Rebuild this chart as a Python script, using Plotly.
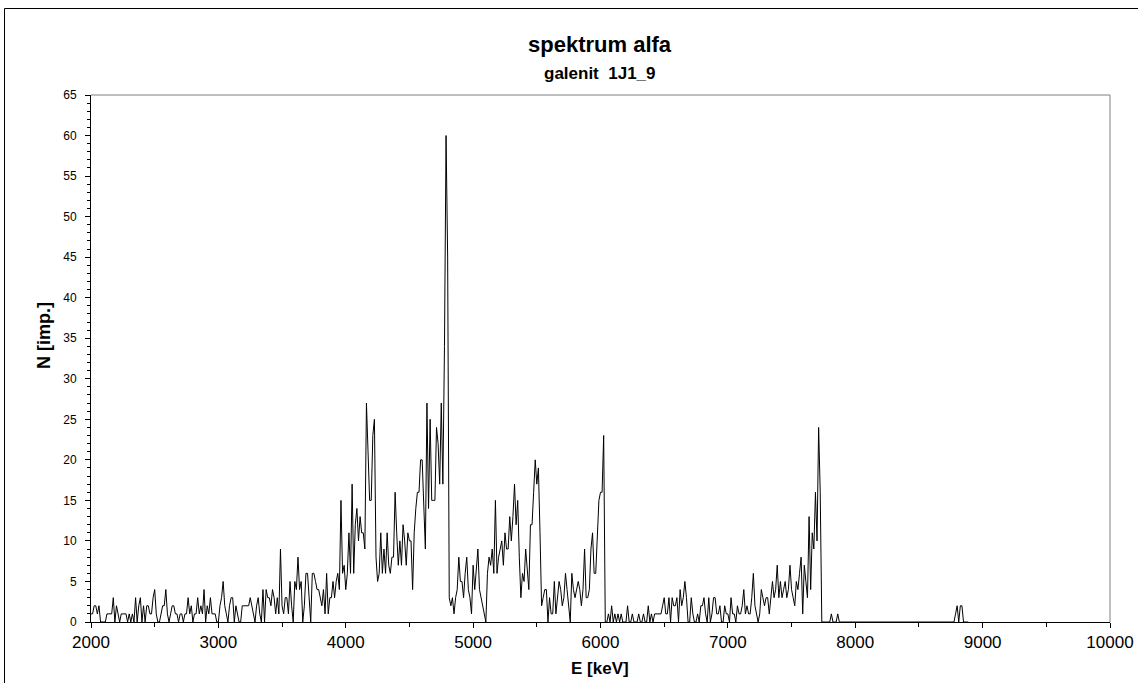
import plotly.graph_objects as go

# ---- data ----
E_START = 2000.0     # keV, first channel
E_STEP = 12.5        # keV per channel

# counts per channel, one row = 100 keV (8 channels)
counts_rows = [
    [1, 1, 2, 2, 1, 2, 0, 0],        # 2000
    [0, 0, 1, 1, 1, 1, 3, 0],        # 2100
    [2, 1, 0, 1, 1, 1, 1, 0],        # 2200
    [1, 0, 1, 0, 3, 0, 2, 3],        # 2300
    [0, 2, 0, 2, 2, 1, 1, 3],        # 2400
    [4, 1, 0, 0, 1, 2, 2, 4],        # 2500
    [1, 0, 1, 2, 2, 1, 1, 0],        # 2600
    [1, 1, 0, 1, 1, 3, 1, 2],        # 2700
    [0, 1, 1, 3, 1, 2, 1, 4],        # 2800
    [0, 2, 1, 3, 1, 1, 1, 0],        # 2900
    [0, 2, 3, 5, 2, 1, 0, 2],        # 3000
    [3, 3, 0, 2, 1, 0, 0, 2],        # 3100
    [2, 2, 2, 2, 3, 2, 1, 0],        # 3200
    [2, 3, 1, 0, 4, 0, 4, 3],        # 3300
    [3, 2, 4, 3, 1, 3, 1, 9],        # 3400
    [2, 1, 3, 3, 1, 5, 2, 0],        # 3500
    [5, 4, 8, 4, 5, 0, 2, 6],        # 3600
    [6, 3, 0, 6, 6, 5, 4, 4],        # 3700
    [3, 2, 4, 1, 6, 1, 3, 3],        # 3800
    [5, 3, 5, 6, 4, 15, 6, 7],       # 3900
    [4, 6, 11, 6, 17, 6, 12, 14],    # 4000
    [10, 13, 11, 11, 9, 27, 21, 15], # 4100
    [15, 23, 25, 8, 5, 6, 11, 6],    # 4200
    [9, 6, 11, 7, 6, 8, 8, 16],      # 4300
    [11, 7, 10, 7, 12, 10, 7, 11],   # 4400
    [10, 10, 4, 11, 14, 16, 16, 20], # 4500
    [20, 15, 9, 27, 14, 25, 15, 15], # 4600
    [15, 24, 22, 17, 27, 17, 34, 60],# 4700
    [45, 3, 2, 3, 1, 3, 4, 8],       # 4800
    [5, 5, 3, 6, 8, 4, 3, 1],        # 4900
    [7, 4, 7, 9, 4, 3, 2, 1],        # 5000
    [0, 6, 8, 7, 9, 6, 15, 6],       # 5100
    [8, 9, 10, 7, 11, 9, 9, 13],     # 5200
    [10, 13, 17, 12, 15, 8, 3, 6],   # 5300
    [5, 9, 6, 4, 12, 12, 16, 20],    # 5400
    [17, 19, 11, 2, 3, 4, 4, 0],     # 5500
    [3, 1, 1, 5, 1, 3, 5, 4],        # 5600
    [2, 3, 6, 4, 2, 0, 6, 4],        # 5700
    [3, 4, 5, 4, 2, 4, 9, 3],        # 5800
    [3, 4, 9, 11, 6, 6, 10, 15],     # 5900
    [16, 16, 23, 0, 0, 1, 0, 2],     # 6000
    [0, 1, 0, 1, 0, 1, 0, 0],        # 6100
    [0, 2, 0, 0, 1, 0, 0, 0],        # 6200
    [1, 0, 0, 1, 0, 0, 2, 0],        # 6300
    [1, 0, 1, 1, 1, 1, 1, 2],        # 6400
    [3, 1, 1, 3, 0, 3, 2, 2],        # 6500
    [3, 0, 4, 2, 3, 5, 3, 0],        # 6600
    [0, 3, 1, 0, 0, 1, 0, 2],        # 6700
    [2, 3, 1, 0, 3, 0, 1, 3],        # 6800
    [3, 1, 1, 2, 0, 0, 2, 1],        # 6900
    [1, 0, 3, 1, 1, 0, 2, 1],        # 7000
    [1, 2, 4, 1, 2, 1, 1, 3],        # 7100
    [6, 2, 1, 0, 1, 4, 3, 2],        # 7200
    [3, 3, 1, 3, 5, 3, 4, 7],        # 7300
    [3, 5, 3, 4, 5, 3, 4, 7],        # 7400
    [4, 3, 2, 5, 4, 6, 8, 1],        # 7500
    [7, 5, 3, 13, 4, 11, 9, 16],     # 7600
    [10, 24, 16, 0, 0, 0, 0, 0],     # 7700
    [0, 1, 0, 0, 0, 1, 0, 0],        # 7800
    [0, 0, 0, 0, 0, 0, 0, 0],        # 7900
    [0, 0, 0, 0, 0, 0, 0, 0],        # 8000
    [0, 0, 0, 0, 0, 0, 0, 0],        # 8100
    [0, 0, 0, 0, 0, 0, 0, 0],        # 8200
    [0, 0, 0, 0, 0, 0, 0, 0],        # 8300
    [0, 0, 0, 0, 0, 0, 0, 0],        # 8400
    [0, 0, 0, 0, 0, 0, 0, 0],        # 8500
    [0, 0, 0, 0, 0, 0, 0, 0],        # 8600
    [0, 0, 0, 0, 0, 0, 0, 1],        # 8700
    [2, 0, 2, 2, 0, 0, 0, 0],        # 8800
]

x_ticks = [2000, 3000, 4000, 5000, 6000, 7000, 8000, 9000, 10000]
y_ticks = [0, 5, 10, 15, 20, 25, 30, 35, 40, 45, 50, 55, 60, 65]

title_text = "spektrum alfa"
subtitle_text = "galenit\u00a0\u00a01J1_9"
x_title = "E [keV]"
y_title = "N [imp.]"

# ---- build series ----
counts = [v for row in counts_rows for v in row]
energy = [E_START + i * E_STEP for i in range(len(counts))]

FONT = "Liberation Sans, Arial, sans-serif"

fig = go.Figure()
fig.add_trace(go.Scatter(
    x=energy, y=counts, mode="lines",
    line=dict(color="black", width=1),
    hoverinfo="x+y", showlegend=False,
))

W, H = 1138, 683
L, R, T, B = 91, 28, 95, 61
pw, ph = W - L - R, H - T - B

def px_x(p):
    return (p - L) / pw

def px_y(p):
    return (H - B - p) / ph

fig.update_layout(
    width=W, height=H,
    margin=dict(l=L, r=R, t=T, b=B, pad=0, autoexpand=False),
    paper_bgcolor="white", plot_bgcolor="white",
    font=dict(family=FONT, color="black"),
    showlegend=False,
)

fig.update_xaxes(
    range=[2000, 10000], tickvals=x_ticks, ticktext=[str(t) for t in x_ticks],
    showgrid=False, zeroline=False, automargin=False,
    showline=True, linecolor="black", linewidth=1,
    ticks="outside", ticklen=5, tickwidth=1, tickcolor="black",
    minor=dict(ticks="outside", dtick=500, tick0=2000, ticklen=4, tickcolor="black", showgrid=False),
    tickfont=dict(size=17, family=FONT, color="black"),
)
fig.update_yaxes(
    range=[0, 65], tickvals=y_ticks, ticktext=[str(t) for t in y_ticks],
    showgrid=False, zeroline=False, automargin=False,
    showline=True, linecolor="black", linewidth=1,
    ticks="outside", ticklen=5, tickwidth=1, tickcolor="black",
    ticklabelstandoff=6,
    minor=dict(ticks="outside", dtick=1, tick0=0, ticklen=3, tickcolor="black", showgrid=False),
    tickfont=dict(size=12, family=FONT, color="black"),
)

# plot-area top and right border (grey)
fig.add_shape(type="line", xref="paper", yref="paper", x0=0, x1=1, y0=1, y1=1,
              line=dict(color="#808080", width=1))
fig.add_shape(type="line", xref="paper", yref="paper", x0=1, x1=1, y0=0, y1=1,
              line=dict(color="#808080", width=1))

# outer chart frame (left and top edges visible; continues beyond the crop)
fig.add_shape(type="rect", xref="paper", yref="paper",
              x0=px_x(4.5), x1=px_x(1150), y0=px_y(695), y1=px_y(8.5),
              line=dict(color="black", width=1), fillcolor="rgba(0,0,0,0)", layer="below")

fig.add_annotation(text="<b>" + title_text + "</b>", xref="paper", yref="paper",
                   x=px_x(600), y=px_y(45), showarrow=False,
                   font=dict(size=22, family=FONT, color="black"),
                   xanchor="center", yanchor="middle")
fig.add_annotation(text="<b>" + subtitle_text + "</b>", xref="paper", yref="paper",
                   x=px_x(600), y=px_y(73), showarrow=False,
                   font=dict(size=17, family=FONT, color="black"),
                   xanchor="center", yanchor="middle")
fig.add_annotation(text="<b>" + x_title + "</b>", xref="paper", yref="paper",
                   x=px_x(600), y=px_y(668), showarrow=False,
                   font=dict(size=17, family=FONT, color="black"),
                   xanchor="center", yanchor="middle")
fig.add_annotation(text="<b>" + y_title + "</b>", xref="paper", yref="paper",
                   x=px_x(44), y=px_y(336), showarrow=False, textangle=-90,
                   font=dict(size=18, family=FONT, color="black"),
                   xanchor="center", yanchor="middle")

fig.write_html("out.html")
